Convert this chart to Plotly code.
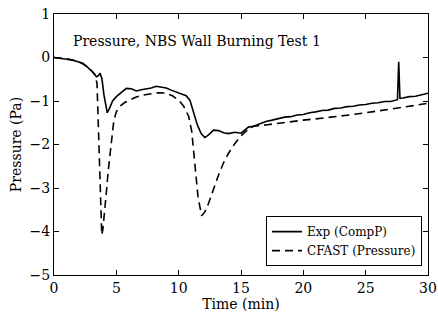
import plotly.graph_objects as go

exp_t = [0, 0.3, 0.6, 1.0, 1.3, 1.6, 2.0, 2.3, 2.6, 2.9, 3.2, 3.4, 3.55, 3.7, 3.85, 4.0, 4.15, 4.27,
         4.45, 4.7, 5.0, 5.4, 5.8, 6.2, 6.6, 7.0, 7.4, 7.8, 8.2, 8.6, 9.0, 9.4, 9.8, 10.2, 10.6,
         10.9, 11.2, 11.5, 11.8, 12.1, 12.4, 12.8, 13.2, 13.6, 14.0, 14.5, 15.0, 15.3, 15.6, 16.0,
         16.5, 17.0, 17.5, 18.0, 18.5, 19.0, 19.5, 20.0, 20.5, 21.0, 21.5, 22.0, 22.5, 23.0, 23.5,
         24.0, 24.5, 25.0, 25.5, 26.0, 26.5, 27.0, 27.4, 27.55, 27.65, 27.75, 28.0, 28.5, 29.0,
         29.5, 30.0]
exp_p = [0, -0.01, -0.02, -0.03, -0.05, -0.07, -0.11, -0.13, -0.2, -0.28, -0.36, -0.44, -0.42,
         -0.36, -0.5, -0.85, -1.15, -1.27, -1.17, -1.0, -0.9, -0.8, -0.71, -0.72, -0.77, -0.74,
         -0.72, -0.7, -0.66, -0.68, -0.7, -0.75, -0.79, -0.83, -0.88, -0.98, -1.25, -1.55, -1.75,
         -1.84, -1.78, -1.67, -1.68, -1.73, -1.75, -1.72, -1.74, -1.66, -1.6, -1.58, -1.53, -1.47,
         -1.44, -1.41, -1.37, -1.36, -1.32, -1.31, -1.27, -1.25, -1.22, -1.21, -1.17, -1.16, -1.13,
         -1.12, -1.09, -1.08, -1.05, -1.04, -1.01, -1.01, -0.98, -0.97, -0.1, -0.94, -0.93, -0.9,
         -0.89, -0.85, -0.82]

cfast_t = [0, 0.5, 1.0, 1.5, 2.0, 2.5, 3.0, 3.3, 3.45, 3.55, 3.65, 3.75, 3.83, 3.92, 4.05, 4.2,
           4.35, 4.5, 4.65, 4.8, 5.0, 5.3, 5.7, 6.1, 6.6, 7.2, 7.8, 8.4, 9.0, 9.5, 10.0, 10.4, 10.8,
           11.05, 11.3, 11.55, 11.84, 12.1, 12.4, 12.8, 13.2, 13.6, 14.0, 14.5, 15.0, 15.5, 16.0,
           17, 18, 19, 20, 21, 22, 23, 24, 25, 26, 27, 28, 29, 30]
cfast_p = [0, -0.01, -0.03, -0.06, -0.1, -0.18, -0.3, -0.4, -0.6, -1.5, -2.6, -3.5, -4.08, -3.95,
           -3.6, -3.1, -2.6, -2.2, -1.75, -1.45, -1.25, -1.12, -1.03, -0.97, -0.91, -0.86, -0.83,
           -0.81, -0.82, -0.88, -0.98, -1.12, -1.35, -1.7, -2.45, -3.2, -3.64, -3.55, -3.35, -3.0,
           -2.7, -2.42, -2.2, -1.98, -1.8, -1.67, -1.58, -1.55, -1.51, -1.47, -1.44, -1.41, -1.38,
           -1.35, -1.31, -1.27, -1.23, -1.19, -1.15, -1.1, -1.05]

x_ticks = [0, 5, 10, 15, 20, 25, 30]
y_ticks = [1, 0, -1, -2, -3, -4, -5]
FONT = "DejaVu Serif"

fig = go.Figure()
fig.add_trace(go.Scatter(x=exp_t, y=exp_p, mode="lines", name="Exp (CompP)",
                         line=dict(color="black", width=1.6)))
fig.add_trace(go.Scatter(x=cfast_t, y=cfast_p, mode="lines", name="CFAST (Pressure)",
                         line=dict(color="black", width=1.6, dash="8px,5px")))

axis_common = dict(showgrid=False, zeroline=False, showline=True, linecolor="black",
                   linewidth=1.2, mirror="ticks", ticks="inside", ticklen=5, automargin=False,
                   ticklabeloverflow="allow",
                   tickcolor="black", tickfont=dict(family=FONT, size=14, color="black"))
fig.update_xaxes(range=[0, 30], tickvals=x_ticks, title=dict(text="Time (min)", standoff=2,
                 font=dict(family=FONT, size=14, color="black")), **axis_common)
fig.update_yaxes(range=[-5, 1], tickvals=y_ticks, title=dict(text="Pressure (Pa)", standoff=4,
                 font=dict(family=FONT, size=14, color="black")), **axis_common)

fig.add_annotation(x=0.045, y=0.895, xref="paper", yref="paper", xanchor="left", yanchor="middle",
                   text="Pressure, NBS Wall Burning Test 1", showarrow=False,
                   font=dict(family=FONT, size=14, color="black"))

fig.update_layout(width=438, height=322, margin=dict(l=54, r=10, t=14, b=47),
                  paper_bgcolor="white", plot_bgcolor="white",
                  legend=dict(x=0.984, y=0.034, xanchor="right", yanchor="bottom",
                              bordercolor="black", borderwidth=1, bgcolor="white",
                              font=dict(family=FONT, size=12, color="black"),
                              tracegroupgap=0, itemwidth=30))
fig.write_html("out.html", config={"displayModeBar": False},
               post_script="document.body.style.margin='0';document.body.style.overflow='hidden';")
